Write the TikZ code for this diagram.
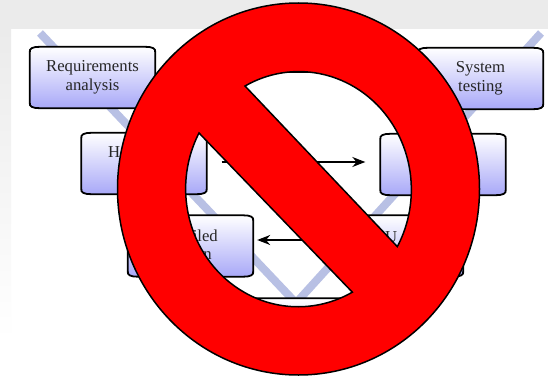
\documentclass[tikz,border=0pt]{standalone}
\usepackage{fontspec}
\setmainfont{Liberation Serif}
\usetikzlibrary{arrows.meta,shadings}
\definecolor{vline}{HTML}{B8C0E4}
\definecolor{boxlow}{HTML}{A8A8F8}
\definecolor{band}{HTML}{EBEBEB}
\pgfdeclarelayer{back}
\pgfsetlayers{back,main}
\tikzset{
  stagebox/.style={minimum width=125pt,minimum height=61pt,inner sep=0pt,align=center,text=black!85,
    font=\fontsize{16.7}{19}\selectfont},
  boxskin/.style={draw=black,line width=1.8pt,top color=white,bottom color=boxlow},
  frag/.style={inner sep=0pt,text=black!85,font=\fontsize{16.7}{19}\selectfont},
  vstroke/.style={draw=vline,line width=8pt},
  flow/.style={draw=black,line width=1.3pt,-{Stealth[length=13pt,width=10pt]}},
}
\begin{document}
\begin{tikzpicture}[x=1pt,y=-1pt]
\useasboundingbox (0,0) rectangle (548,377);
% stage boxes
\node[stagebox] (req) at (92.5,77.5) {Requirements\\analysis};
\node[stagebox] (sys) at (480.5,78.5) {System\\testing};
\node[stagebox] (hl) at (144,163.5) {};
\node[stagebox] (int) at (443,164.5) {};
\node[stagebox] (det) at (190.5,246) {};
\node[stagebox] (uni) at (400.5,246) {};
\node[stagebox] (bot) at (290,329) {};
\begin{pgfonlayer}{back}
  % page background
  \fill[white] (0,0) rectangle (548,377);
  \shade[top color=band,bottom color=white] (0,29) rectangle (11,340);
  \fill[band] (0,0) rectangle (548,29);
  % V strokes
  \coordinate (vl) at (40,33);
  \coordinate (vb) at (296,303);
  \coordinate (vr) at (541,33);
  \draw[vstroke] (vl) -- (vb);
  \draw[vstroke] (vr) -- (vb);
  % box outlines with flared corners
  \foreach \n in {req,sys,hl,int,det,uni,bot}{
    \path[boxskin]
      ([shift={(0pt,-6pt)}]\n.north west)
      .. controls ([shift={(-1pt,-1.5pt)}]\n.north west) and ([shift={(3pt,0pt)}]\n.north west) .. ([shift={(10pt,0pt)}]\n.north west)
      -- ([shift={(-10pt,0pt)}]\n.north east)
      .. controls ([shift={(-3pt,0pt)}]\n.north east) and ([shift={(1pt,-1.5pt)}]\n.north east) .. ([shift={(0pt,-6pt)}]\n.north east)
      -- ([shift={(0pt,6pt)}]\n.south east)
      .. controls ([shift={(1pt,1.5pt)}]\n.south east) and ([shift={(-3pt,0pt)}]\n.south east) .. ([shift={(-10pt,0pt)}]\n.south east)
      -- ([shift={(10pt,0pt)}]\n.south west)
      .. controls ([shift={(3pt,0pt)}]\n.south west) and ([shift={(-1pt,1.5pt)}]\n.south west) .. ([shift={(0pt,6pt)}]\n.south west)
      -- cycle;
  }
\end{pgfonlayer}
% partly visible labels
\node[frag,anchor=base west] (t1) at (108,157) {H};
\node[frag,anchor=base east] (t2) at (218,241) {iled};
\node[frag,anchor=base east] (t3) at (212,259) {n};
\node[frag,anchor=base west] (t4) at (385,242) {U};
\node[frag,anchor=base east] (t5) at (478,160) {n};
% flow arrows
\draw[flow,shorten <=15pt,shorten >=15pt] ([yshift=1.5pt]hl.east) -- ([yshift=2.5pt]int.west);
\draw[flow,shorten <=15pt,shorten >=4pt] ([yshift=6pt]uni.west) -- ([yshift=6pt]det.east);
% sliver under the top of the sign
\coordinate (sa) at (270,72.5);
\coordinate (sb) at (326,72.5);
\draw[black,line width=1.6pt] (sa) -- (sb);
% prohibition sign: outer disc with two segment-shaped holes
\path[fill=red,draw=black,line width=1.5pt,even odd rule]
  (298.5,189) ellipse [x radius=181pt,y radius=186pt]
  (245,86) arc [start angle=118.6,end angle=-28.9,x radius=112.5pt,y radius=118pt] -- cycle
  (199,133) arc [start angle=151.8,end angle=298.8,x radius=112.5pt,y radius=118pt] -- cycle;
\end{tikzpicture}
\end{document}
